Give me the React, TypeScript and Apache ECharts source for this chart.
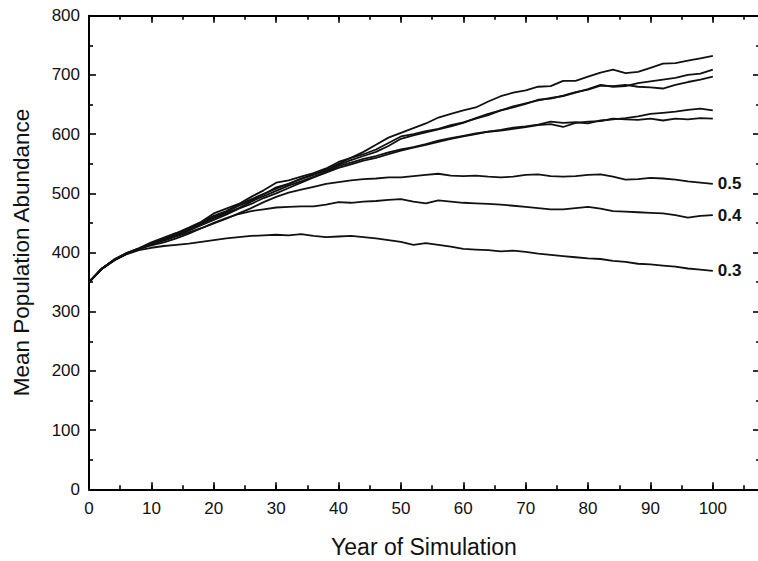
import React, { useEffect, useRef } from "react";
import * as echarts from "echarts";

// Year of simulation (x values)
const years = [0, 2, 4, 6, 8, 10, 12, 14, 16, 18, 20, 22, 24, 26, 28, 30, 32, 34, 36, 38, 40, 42, 44, 46, 48, 50,
  52, 54, 56, 58, 60, 62, 64, 66, 68, 70, 72, 74, 76, 78, 80, 82, 84, 86, 88, 90, 92, 94, 96, 98, 100];

// Mean population abundance per scenario
const s03 = [350, 372, 386, 397, 404, 408, 411, 413, 415, 418, 421, 424, 426, 428, 429, 430, 429, 431, 428, 426, 427, 428, 426, 424, 421, 418,
  413, 416, 413, 410, 406, 405, 404, 402, 403, 401, 398, 396, 394, 392, 390, 389, 386, 384, 381, 380, 378, 376, 373, 371, 369];
const s04 = [350, 372, 387, 398, 406, 412, 417, 424, 432, 441, 450, 458, 465, 470, 473, 476, 477, 478, 478, 481, 485, 484, 486, 487, 489, 490,
  486, 483, 488, 486, 484, 483, 482, 481, 479, 477, 475, 473, 473, 475, 477, 474, 470, 469, 468, 467, 466, 463, 459, 462, 463];
const s05 = [350, 372, 387, 398, 406, 414, 420, 427, 434, 441, 449, 457, 466, 475, 485, 494, 501, 506, 511, 516, 519, 522, 524, 525, 527, 527,
  529, 531, 533, 530, 529, 530, 528, 527, 528, 531, 532, 529, 528, 529, 531, 532, 528, 523, 524, 526, 525, 523, 520, 518, 516];
const sP2 = [350, 372, 387, 398, 406, 414, 421, 428, 437, 446, 455, 464, 474, 482, 492, 500, 509, 518, 527, 535, 543, 549, 555, 560, 566, 572,
  577, 582, 587, 592, 596, 600, 604, 606, 609, 612, 615, 617, 612, 619, 621, 622, 626, 625, 624, 626, 623, 626, 625, 627, 626];
const sP1 = [350, 372, 388, 399, 407, 416, 422, 429, 438, 448, 458, 466, 475, 486, 495, 504, 513, 520, 528, 536, 546, 552, 558, 563, 569, 574,
  578, 583, 589, 593, 597, 601, 604, 607, 611, 613, 616, 621, 619, 620, 618, 623, 625, 627, 630, 634, 636, 638, 641, 643, 640];
const sM2 = [350, 372, 387, 398, 406, 415, 423, 431, 441, 450, 460, 468, 479, 488, 498, 510, 516, 525, 532, 538, 548, 556, 563, 570, 580, 592,
  598, 603, 608, 613, 619, 627, 634, 640, 645, 651, 658, 660, 665, 671, 675, 682, 681, 683, 680, 679, 677, 683, 688, 692, 697];
const sM1 = [350, 372, 388, 399, 407, 417, 425, 433, 442, 452, 466, 474, 482, 494, 505, 518, 522, 528, 534, 542, 553, 560, 566, 574, 585, 596,
  600, 605, 609, 615, 620, 626, 632, 640, 647, 652, 657, 661, 664, 670, 676, 683, 680, 681, 686, 689, 692, 695, 700, 702, 709];
const sT = [350, 372, 387, 398, 406, 414, 422, 430, 440, 451, 462, 470, 481, 490, 499, 508, 516, 524, 531, 540, 550, 560, 570, 582, 594, 602,
  610, 618, 628, 634, 640, 645, 655, 664, 670, 674, 680, 681, 690, 690, 697, 704, 709, 703, 705, 712, 719, 720, 724, 728, 732];

const seriesList = [
  { name: "0.3", values: s03, label: "0.3" },
  { name: "0.4", values: s04, label: "0.4" },
  { name: "0.5", values: s05, label: "0.5" },
  { name: "p2", values: sP2, label: "" },
  { name: "p1", values: sP1, label: "" },
  { name: "m2", values: sM2, label: "" },
  { name: "m1", values: sM1, label: "" },
  { name: "t", values: sT, label: "" },
];

const FONT = "'Liberation Sans', Arial, sans-serif";
const XMAX = 107.4;

export default function App() {
  const ref = useRef<HTMLDivElement>(null);
  useEffect(() => {
    if (!ref.current) return;
    const chart = echarts.init(ref.current, null, { renderer: "svg" });
    const lineStyle = { color: "#000", width: 2 };
    const tickStyle = { color: "#000", width: 1.6 };
    const xCommon = {
      type: "value" as const,
      min: 0,
      max: XMAX,
      splitLine: { show: false },
    };
    const yCommon = {
      type: "value" as const,
      min: 0,
      max: 800,
      splitLine: { show: false },
    };
    chart.setOption({
      animation: false,
      backgroundColor: "#fff",
      textStyle: { fontFamily: FONT },
      grid: { left: 89, right: -1, top: 15.7, bottom: 71.7, outerBoundsMode: "none" },
      xAxis: [
        {
          ...xCommon,
          position: "bottom",
          interval: 10,
          axisLine: { show: true, onZero: false, lineStyle },
          axisTick: { show: true, inside: true, length: 7, lineStyle: tickStyle },
          axisLabel: {
            formatter: (v: number) => (v % 10 === 0 && v <= 100 ? String(v) : ""),
            fontSize: 17,
            color: "#111",
            margin: 11,
            fontFamily: FONT,
          },
          name: "Year of Simulation",
          nameLocation: "middle",
          nameGap: 46,
          nameTextStyle: { fontSize: 23, color: "#111", fontFamily: FONT },
        },
        {
          ...xCommon,
          position: "bottom",
          interval: 5,
          axisLine: { show: false, onZero: false },
          axisTick: { show: true, inside: true, length: 4, lineStyle: tickStyle },
          axisLabel: { show: false },
        },
        {
          ...xCommon,
          position: "top",
          interval: 10,
          axisLine: { show: true, onZero: false, lineStyle },
          axisTick: { show: true, inside: true, length: 7, lineStyle: tickStyle },
          axisLabel: { show: false },
        },
        {
          ...xCommon,
          position: "top",
          interval: 5,
          axisLine: { show: false, onZero: false },
          axisTick: { show: true, inside: true, length: 4, lineStyle: tickStyle },
          axisLabel: { show: false },
        },
      ],
      yAxis: [
        {
          ...yCommon,
          position: "left",
          interval: 100,
          axisLine: { show: true, onZero: false, lineStyle },
          axisTick: { show: true, inside: true, length: 7, lineStyle: tickStyle },
          minorTick: { show: true, splitNumber: 2, length: 4, lineStyle: tickStyle },
          axisLabel: { fontSize: 17, color: "#111", margin: 9, fontFamily: FONT },
          name: "Mean Population Abundance",
          nameLocation: "middle",
          nameGap: 56,
          nameTextStyle: { fontSize: 22.5, color: "#111", fontFamily: FONT },
        },
        {
          ...yCommon,
          position: "right",
          interval: 100,
          axisLine: { show: true, onZero: false, lineStyle },
          axisTick: { show: true, inside: true, length: 6, lineStyle: tickStyle },
          minorTick: { show: true, splitNumber: 2, length: 3, lineStyle: tickStyle },
          axisLabel: { show: false },
        },
      ],
      series: seriesList.map((s) => ({
        type: "line",
        name: s.name,
        xAxisIndex: 0,
        yAxisIndex: 0,
        data: years.map((y, i) => [y, s.values[i]]),
        symbol: "none",
        lineStyle: { color: "#111", width: 1.8 },
        itemStyle: { color: "#111" },
        clip: false,
        endLabel: s.label
          ? {
              show: true,
              formatter: s.label,
              fontSize: 17,
              fontWeight: "bold",
              color: "#111",
              distance: 5,
              fontFamily: FONT,
            }
          : { show: false },
      })),
    });
    return () => chart.dispose();
  }, []);
  return (
    <div
      ref={ref}
      style={{ position: "absolute", left: 0, top: 0, width: 758, height: 561 }}
    />
  );
}
